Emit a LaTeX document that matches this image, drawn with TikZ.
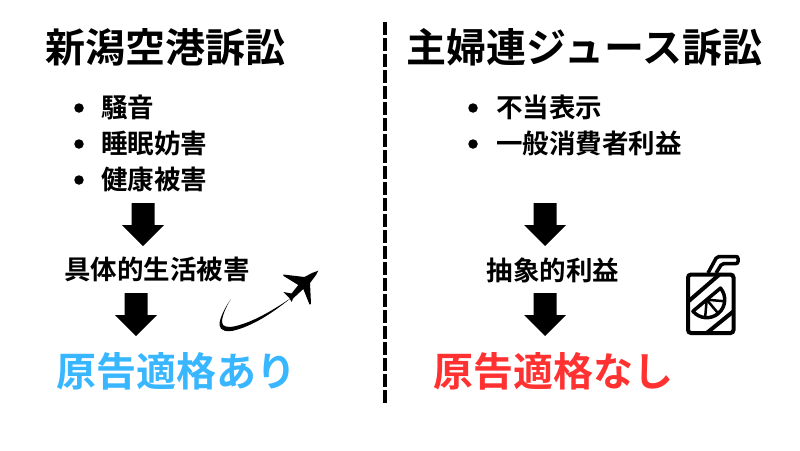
\documentclass[tikz,border=0pt]{standalone}
\usepackage{fontspec}
\setmainfont{Noto Sans CJK JP Bold}
\definecolor{okblue}{HTML}{38B6FF}
\definecolor{ngred}{HTML}{FF3131}
\tikzset{
 title/.style={font=\fontsize{40}{40}\selectfont,inner sep=0pt},
 item/.style={font=\fontsize{26.5}{26.5}\selectfont,inner sep=0pt,anchor=west},
 result/.style={font=\fontsize{40}{40}\selectfont,inner sep=0pt},
 bullet/.style={circle,fill=black,inner sep=0pt,minimum size=9.5pt},
}
\begin{document}
\begin{tikzpicture}[x=1pt,y=-1pt]
 \useasboundingbox (0,0) rectangle (800,450);
 % titles
 \node[title] (titleL) at (165,47) {新潟空港訴訟};
 \node[title] (titleR) at (584.5,47) {主婦連ジュース訴訟};
 % divider
 \draw[line width=4.5pt,dash pattern=on 12.5pt off 3.5pt] (385,22)--(385,403);
 % left list
 \foreach \n/\y/\t/\ty in {a/108/騒音/107.3,b/144/睡眠妨害/143.3,c/180/健康被害/179.3}{
  \node[bullet] (dot\n) at (79,\y) {};
  \node[item] (item\n) at (101,\ty) {\t};
 }
 % right list
 \foreach \n/\y/\t/\ty in {d/108/不当表示/107.3,e/144/一般消費者利益/143.3}{
  \node[bullet] (dot\n) at (473,\y) {};
  \node[item] (item\n) at (496,\ty) {\t};
 }
 % block arrows
 \foreach \x/\y in {143/203,136/293,545/203,545/293}{
  \fill[black,shift={(\x,\y)}] (-11.5,0)--(11.5,0)--(11.5,22)--(21,22)--(0,43)--(-21,22)--(-11.5,22)--cycle;
 }
 \node[item,anchor=center] (harmL) at (157,269.5) {具体的生活被害};
 \node[item,anchor=center] (harmR) at (553,270.5) {抽象的利益};
 \node[result,text=okblue] (resL) at (176,371.5) {原告適格あり};
 \node[result,text=ngred] (resR) at (553,371.5) {原告適格なし};
 % plane
 \fill[black] (230.7,299.3) .. controls (224,309) and (219,320) .. (219.5,325)
  .. controls (220,331) and (227,332.5) .. (236,330)
  .. controls (257,324) and (276,310) .. (291,298)
  .. controls (276,308) and (256,321) .. (236,326)
  .. controls (228,328) and (222,327) .. (222,322)
  .. controls (222,316) and (226,307) .. (230.7,299.3) -- cycle;
 \fill[black] (318.3,270.7)--(312,273)--(304.5,277)--(283.3,274.5)--(283.3,275.8)--(298.3,285)--(291.5,293.5)--(283.3,292)--(289,297.5)--(291.7,302)--(293,298.5)--(303.3,289)--(309.5,304.5)--(311,304)--(310,283)--(316,275)--cycle;
 % juice
 \draw[line width=4pt,rounded corners=3pt] (688,274.5) rectangle (733.5,333);
 \draw[line width=3.5pt,rounded corners=2pt] (708,273)--(717,256.5)--(738,256.5)--(738,263.5)--(722,263.5)--(716,273);
 \draw[line width=4pt] (688,301.7)--(720,274);
 \draw[line width=4pt] (706.7,333)--(733,311.7);
 \draw[line width=3.5pt,line join=round] (720.5,288.1) arc[start angle=-40,end angle=140,radius=18]--cycle;
 \foreach \a in {5,50,95}{
  \draw[line width=2.5pt] (706.7,299.7)--++(\a:18);
 }
\end{tikzpicture}
\end{document}
